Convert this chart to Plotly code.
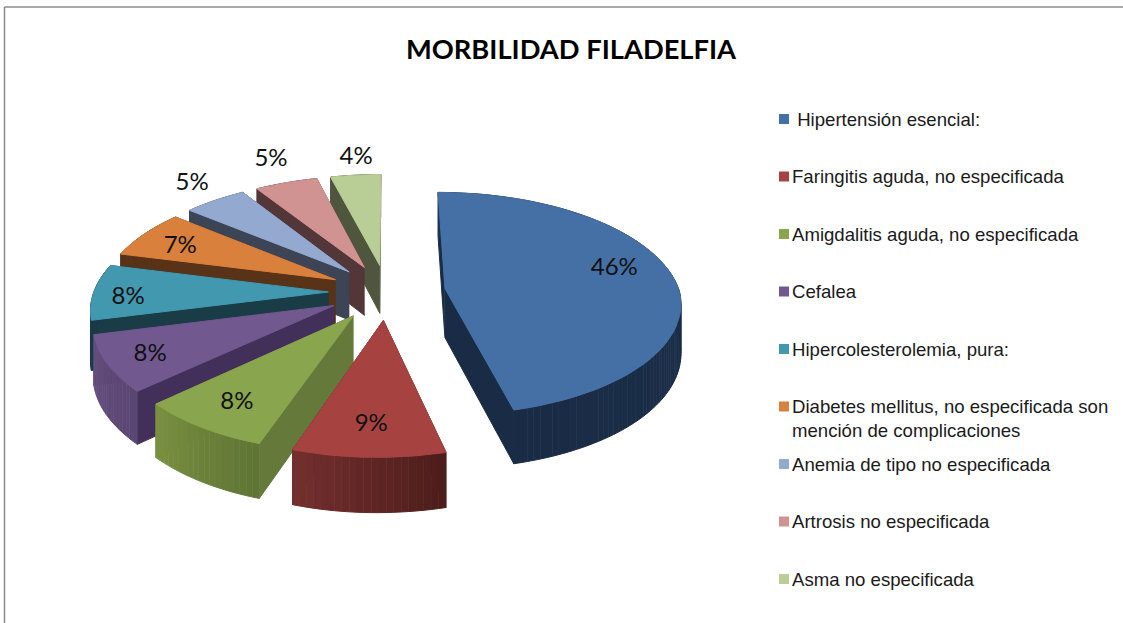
import numpy as np
import plotly.graph_objects as go

# ---- data ----
categories = [
    "\u00a0Hipertensión esencial:",
    "Faringitis aguda, no especificada",
    "Amigdalitis aguda, no especificada",
    "Cefalea",
    "Hipercolesterolemia, pura:",
    "Diabetes mellitus, no especificada son<br>mención de complicaciones",
    "Anemia de tipo no especificada",
    "Artrosis no especificada",
    "Asma no especificada",
]
percent = [46, 9, 8, 8, 8, 7, 5, 5, 4]
title = "MORBILIDAD FILADELFIA"

# ---- style ----
top_colors = ["#4470A6", "#A64341", "#89A54E", "#71588F", "#4198AF", "#D9803C", "#93A9CF", "#D19392", "#B9CD96"]
side_colors = ["#1A2C45", "#5A2422", "#64793A", "#43305A", "#1A3C47", "#583318", "#3C4456", "#533738", "#4F563D"]
rim_start = ["#1A2C45", "#75302F", "#7C9242", "#67517F", "#1A3C47", "#583318", "#3C4456", "#533738", "#4F563D"]
rim_end = ["#1E3350", "#4E1E1C", "#5F7535", "#5A4672", "#1A3C47", "#583318", "#3C4456", "#533738", "#4F563D"]
label_r = [0.78, 0.776, 0.785, 0.82, 0.85, 0.79, 1.263, 1.335, 1.255]
label_dt = [-8.1, 0, 0, 0.2, -2, -1.5, 2.3, 1.7, 1.4]

# view model of the tilted pie
CX, CY, RX, RY, P, EXPLODE, SHEAR = 387, 292, 234.5, 110, 0.135, 0.25, 7


def hexrgb(c):
    return np.array([int(c[i:i + 2], 16) for i in (1, 3, 5)], float)


def mix(a, b, t):
    v = hexrgb(a) * (1 - t) + hexrgb(b) * t
    return "rgb(%d,%d,%d)" % tuple(v)


def project(r, theta, mid):
    th, m = np.radians(theta), np.radians(mid)
    X = EXPLODE * np.sin(m) + r * np.sin(th)
    D = EXPLODE * np.cos(m) + r * np.cos(th)
    f = 1 / (1 + P * D)
    lean = SHEAR * np.minimum(D, 0) * np.clip(X + 1, 0, 1)
    return CX + RX * X * f + lean, CY - RY * D * f, D


def height(D):
    return 49 - 5 * D


def poly(fig, xs, ys, color):
    fig.add_trace(go.Scatter(x=list(xs), y=list(ys), mode="lines", fill="toself", fillcolor=color,
                             line=dict(color=color, width=1), hoverinfo="skip", showlegend=False))


fig = go.Figure()
edges = np.cumsum([0] + percent) / sum(percent) * 360
mids = (edges[:-1] + edges[1:]) / 2

# paint from the back of the pie to the front
for i in [8, 7, 6, 5, 4, 3, 2, 1, 0]:
    t1, t2, m = edges[i], edges[i + 1], mids[i]
    ax, ay, aD = project(0, m, m)
    # radial side faces
    for t in (t2, t1):
        rx, ry, rD = project(1, t, m)
        poly(fig, [ax, rx, rx, ax], [ay, ry, ry + height(rD), ay + height(aD)], side_colors[i])
    # outer wall in narrow strips for the shading
    n = max(2, int((t2 - t1) / 1.5))
    ts = np.linspace(t1, t2, n + 1)
    for a, b in zip(ts[:-1], ts[1:]):
        xa, ya, da = project(1, a, m)
        xb, yb, db = project(1, b, m)
        u = (a - t1) / (t2 - t1)
        poly(fig, [xa, xb, xb, xa], [ya, yb, yb + height(db), ya + height(da)],
             mix(rim_end[i], rim_start[i], u))
    # top face
    tt = np.linspace(t1, t2, 60)
    px, py, _ = project(1, tt, m)
    poly(fig, np.r_[ax, px, ax], np.r_[ay, py, ay], top_colors[i])

# percent labels, placed by slice
lx, ly, _ = project(np.array(label_r), mids + np.array(label_dt), mids)
fig.add_trace(go.Scatter(x=lx, y=ly + 2.5, mode="text", text=[f"{p}%" for p in percent],
                         textposition="middle center",
                         textfont=dict(family="Lato", size=24, color="#111111"),
                         hoverinfo="skip", showlegend=False))

# key
key_y = [119 + 57.5 * k for k in range(len(categories))]
fig.add_trace(go.Scatter(x=[784] * len(categories), y=key_y, mode="markers",
                         marker=dict(symbol="square", size=10, color=top_colors),
                         hoverinfo="skip", showlegend=False))
for name, y in zip(categories, key_y):
    fig.add_annotation(x=791, y=y - 12.5, xref="x", yref="y", text=name, showarrow=False, align="left",
                       xanchor="left", yanchor="top", xshift=-1, yshift=0,
                       font=dict(family="Liberation Sans", size=18.6, color="#1a1a1a"))

fig.update_layout(
    width=1123, height=623, margin=dict(l=0, r=0, t=0, b=0),
    paper_bgcolor="white", plot_bgcolor="white", showlegend=False,
    title=dict(text="<b>" + title + "</b>", x=571 / 1123, y=1 - 49 / 623, xanchor="center", yanchor="middle",
               font=dict(family="Lato", size=27.3, color="black")),
    xaxis=dict(range=[0, 1123], visible=False, fixedrange=True),
    yaxis=dict(range=[623, 0], visible=False, fixedrange=True),
    shapes=[
        dict(type="line", xref="x", yref="y", x0=4.5, x1=4.5, y0=7, y1=623, line=dict(color="#8c8c8c", width=1.5)),
        dict(type="line", xref="x", yref="y", x0=4.5, x1=1123, y0=7, y1=7, line=dict(color="#8c8c8c", width=1.5)),
    ],
)
fig.write_html("out.html", config={"displayModeBar": False},
               post_script="document.body.style.margin='0';document.body.style.overflow='hidden';")
